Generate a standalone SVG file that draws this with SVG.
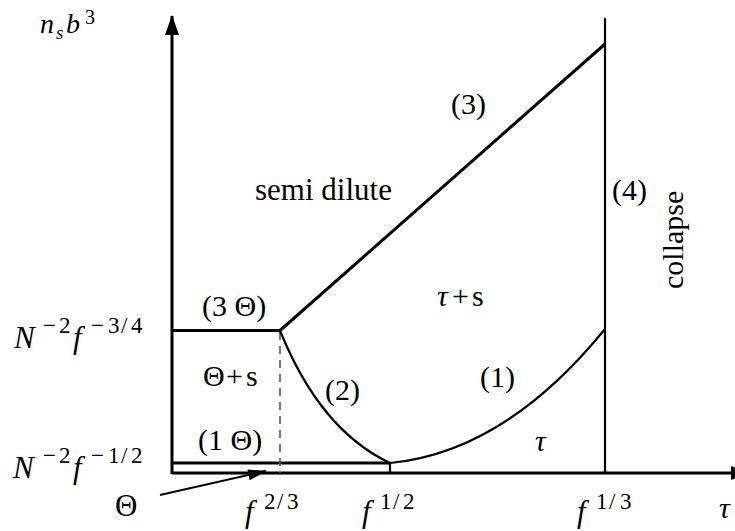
<svg xmlns="http://www.w3.org/2000/svg" width="735" height="531" viewBox="0 0 735 531">
<defs>
<marker id="ah" markerUnits="userSpaceOnUse" markerWidth="20" markerHeight="14" refX="19" refY="7" orient="auto"><path d="M0,0 L20,7 L0,14 Z" fill="#000"/></marker>
<marker id="ahs" markerUnits="userSpaceOnUse" markerWidth="19" markerHeight="11" refX="18" refY="5.5" orient="auto"><path d="M0,0 L19,5.5 L0,11 Z" fill="#000"/></marker>
</defs>
<rect width="735" height="531" fill="#fff"/>
<g id="connectors" fill="none" stroke="#000" stroke-width="2.2">
<line stroke-width="3" x1="172" y1="474" x2="172" y2="16" marker-end="url(#ah)"/>
<line stroke-width="3" x1="172" y1="473" x2="750" y2="473" marker-end="url(#ah)"/>
<line stroke-width="3" x1="172" y1="463" x2="390" y2="463"/>
<line x1="390" y1="463" x2="390" y2="473"/>
<line stroke-width="3" x1="172" y1="330.5" x2="280" y2="330.5"/>
<line stroke="#555" stroke-width="1.6" stroke-dasharray="8 6" x1="280" y1="332" x2="280" y2="473"/>
<line stroke-width="3" x1="280" y1="330.5" x2="605" y2="44"/>
<line x1="605" y1="18" x2="605" y2="473"/>
<path d="M280,330.5 Q320,430 390,463"/>
<path d="M390,463 Q505,452 605,329"/>
<line stroke-width="1.8" x1="160" y1="495" x2="266" y2="471" marker-end="url(#ahs)"/>
</g>
<g id="axis-labels" fill="#000">
<g id="ylabel">
<text font-family="Liberation Serif, Tinos, Times New Roman, serif" font-style="italic" font-size="28" x="40" y="33">n</text>
<text font-family="Liberation Serif, Tinos, Times New Roman, serif" font-style="italic" font-size="19" x="56" y="39">s</text>
<text font-family="Liberation Serif, Tinos, Times New Roman, serif" font-style="italic" font-size="28" x="66" y="33">b</text>
<text font-family="Liberation Serif, Tinos, Times New Roman, serif" font-size="20" x="85" y="24">3</text>
</g>
<g id="y34">
<text font-family="Liberation Serif, Tinos, Times New Roman, serif" font-style="italic" font-size="31" x="14" y="348">N</text>
<text font-family="Liberation Serif, Tinos, Times New Roman, serif" font-size="23" x="43 59" y="333">−2</text>
<text font-family="Liberation Serif, Tinos, Times New Roman, serif" font-style="italic" font-size="31" x="73" y="348">f</text>
<text font-family="Liberation Serif, Tinos, Times New Roman, serif" font-size="23" x="91 108 121 131" y="333">−3/4</text>
</g>
<g id="y12">
<text font-family="Liberation Serif, Tinos, Times New Roman, serif" font-style="italic" font-size="31" x="13" y="478">N</text>
<text font-family="Liberation Serif, Tinos, Times New Roman, serif" font-size="23" x="43 59" y="463">−2</text>
<text font-family="Liberation Serif, Tinos, Times New Roman, serif" font-style="italic" font-size="31" x="73" y="478">f</text>
<text font-family="Liberation Serif, Tinos, Times New Roman, serif" font-size="23" x="91 108 121 131" y="463">−1/2</text>
</g>
<g id="theta"><text font-family="Liberation Serif, Tinos, Times New Roman, serif" font-size="31" x="115" y="516">Θ</text></g>
<g id="f23">
<text font-family="Liberation Serif, Tinos, Times New Roman, serif" font-style="italic" font-size="31" x="245" y="522">f</text>
<text font-family="Liberation Serif, Tinos, Times New Roman, serif" font-size="23" x="264 277 287" y="509">2/3</text>
</g>
<g id="f12">
<text font-family="Liberation Serif, Tinos, Times New Roman, serif" font-style="italic" font-size="31" x="362" y="522">f</text>
<text font-family="Liberation Serif, Tinos, Times New Roman, serif" font-size="23" x="380 393 403" y="509">1/2</text>
</g>
<g id="f13">
<text font-family="Liberation Serif, Tinos, Times New Roman, serif" font-style="italic" font-size="31" x="577" y="522">f</text>
<text font-family="Liberation Serif, Tinos, Times New Roman, serif" font-size="23" x="596 609 620" y="509">1/3</text>
</g>
<g id="tau-axis"><text font-family="Liberation Serif, Tinos, Times New Roman, serif" font-style="italic" font-size="30" x="719" y="518">τ</text></g>
</g>
<g id="region-labels" fill="#000">
<g id="l3"><text font-family="Liberation Serif, Tinos, Times New Roman, serif" font-size="30" x="451" y="114">(3)</text></g>
<g id="semidilute"><text font-family="Liberation Serif, Tinos, Times New Roman, serif" font-size="31" x="255" y="200">semi dilute</text></g>
<g id="l4"><text font-family="Liberation Serif, Tinos, Times New Roman, serif" font-size="30" x="612" y="200">(4)</text></g>
<g id="collapse"><text font-family="Liberation Serif, Tinos, Times New Roman, serif" font-size="30" transform="translate(683,289) rotate(-90)" x="0" y="0">collapse</text></g>
<g id="taus"><text font-family="Liberation Serif, Tinos, Times New Roman, serif" font-size="30" x="437" y="306"><tspan font-style="italic">τ</tspan><tspan x="452 472">+s</tspan></text></g>
<g id="l3theta"><text font-family="Liberation Serif, Tinos, Times New Roman, serif" font-size="30" x="202" y="316">(3 Θ)</text></g>
<g id="thetas"><text font-family="Liberation Serif, Tinos, Times New Roman, serif" font-size="30" x="203 226 246" y="386">Θ+s</text></g>
<g id="l1theta"><text font-family="Liberation Serif, Tinos, Times New Roman, serif" font-size="30" x="198" y="450">(1 Θ)</text></g>
<g id="l2"><text font-family="Liberation Serif, Tinos, Times New Roman, serif" font-size="30" x="325" y="400">(2)</text></g>
<g id="l1"><text font-family="Liberation Serif, Tinos, Times New Roman, serif" font-size="30" x="480" y="387">(1)</text></g>
<g id="tau"><text font-family="Liberation Serif, Tinos, Times New Roman, serif" font-style="italic" font-size="30" x="535" y="451">τ</text></g>
</g>
</svg>
